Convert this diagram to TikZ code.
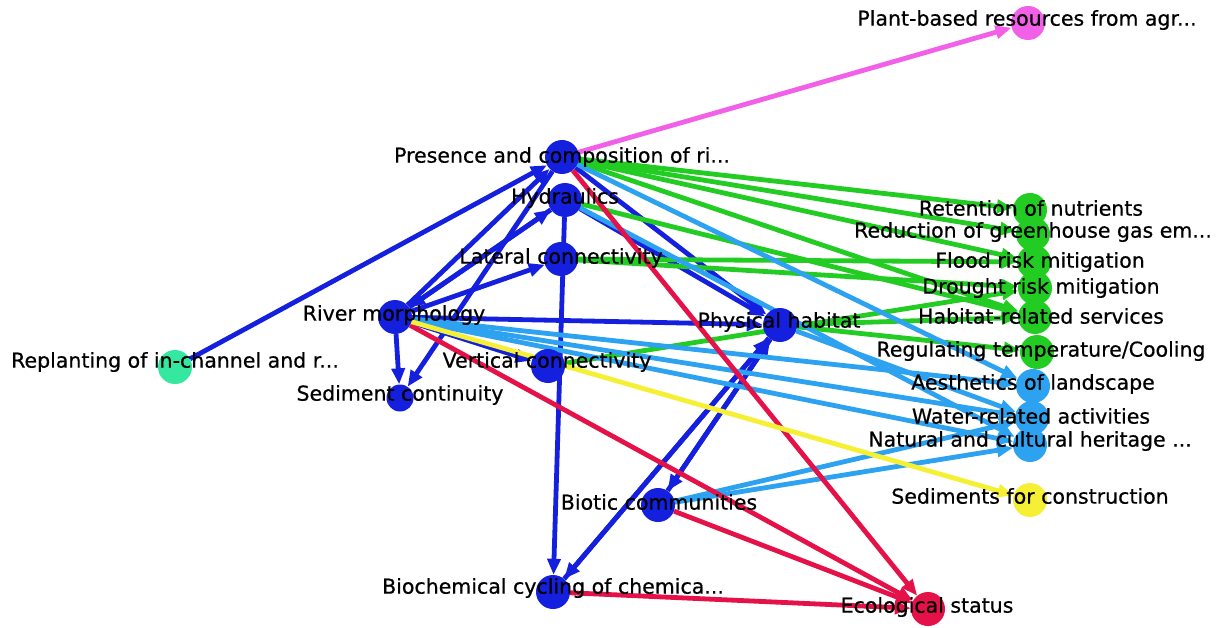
\documentclass[tikz,border=0pt]{standalone}
\usepackage{fontspec}
\setmainfont{DejaVu Sans}[FakeBold=0.6]
\usetikzlibrary{arrows.meta}
\pgfdeclarelayer{bglayer}
\pgfdeclarelayer{edgelayer}
\pgfdeclarelayer{textlayer}
\pgfsetlayers{bglayer,edgelayer,main,textlayer}

\definecolor{nblue}{RGB}{20,32,222}
\definecolor{ngreen}{RGB}{34,204,34}
\definecolor{nlblue}{RGB}{44,162,240}
\definecolor{nred}{RGB}{228,18,72}
\definecolor{nyellow}{RGB}{246,240,52}
\definecolor{npink}{RGB}{242,96,232}
\definecolor{nmint}{RGB}{52,232,160}

\tikzset{
  vtx/.style={circle, minimum size=34pt, inner sep=0pt, fill=#1},
  lbl/.style={font=\fontsize{20.5}{24}\selectfont, text=black, inner sep=0pt, anchor=center},
  link/.style={draw=#1, line width=4.8pt, -{Triangle[length=16pt,width=13pt]}},
}

\begin{document}
\begin{tikzpicture}[x=1pt,y=-1pt]
\begin{pgfonlayer}{bglayer}
\fill[white] (0,0) rectangle (1222,628);
\end{pgfonlayer}
\useasboundingbox (0,0) rectangle (1222,628);

% vertices
\node[vtx=npink] (plant) at (1028,23) {};
\node[vtx=nblue] (pr) at (562,157) {};
\node[vtx=nblue] (hy) at (565,200) {};
\node[vtx=nblue] (lc) at (561,259) {};
\node[vtx=nblue] (rm) at (395,317) {};
\node[vtx=nblue, minimum size=27pt] (sc) at (400,398) {};
\node[vtx=nblue] (vc) at (548,366) {};
\node[vtx=nblue] (ph) at (780,325) {};
\node[vtx=nblue] (bc) at (658,505) {};
\node[vtx=nblue] (bio) at (553,592) {};
\node[vtx=nred] (es) at (928,609) {};
\node[vtx=nmint] (rp) at (175,367) {};
\node[vtx=ngreen] (ret) at (1030,210) {};
\node[vtx=ngreen] (red) at (1033,234) {};
\node[vtx=ngreen] (fl) at (1034,262) {};
\node[vtx=ngreen] (dr) at (1035,288) {};
\node[vtx=ngreen] (hab) at (1035,317) {};
\node[vtx=ngreen] (reg) at (1037,352) {};
\node[vtx=nlblue] (aes) at (1033,386) {};
\node[vtx=nlblue] (wat) at (1032,418) {};
\node[vtx=nlblue] (nat) at (1030,445) {};
\node[vtx=nyellow] (sed) at (1030,500) {};

% connectors
\begin{pgfonlayer}{edgelayer}
\draw[link=npink] (pr) -- (plant);
% blue
\draw[link=nblue] (rp) -- (pr);
\draw[link=nblue] (rm) -- (pr);
\draw[link=nblue] (hy) -- (rm);
\draw[link=nblue] (rm) -- (hy);
\draw[link=nblue] (rm) -- (lc);
\draw[link=nblue] (rm) -- (sc);
\draw[link=nblue] (pr) -- (sc);
\draw[link=nblue] (rm) -- (vc);
\draw[link=nblue] (rm) -- (ph);
\draw[link=nblue] (pr) -- (ph);
\draw[link=nblue] (hy) -- (ph);
\draw[link=nblue] (hy) -- (bio);
\draw[link=nblue] (ph) -- (bio);
\draw[link=nblue] (bio) -- (ph);
\draw[link=nblue] (ph) -- (bc);
\draw[link=nblue] (bc) -- (ph);
% green
\draw[link=ngreen] (pr) -- (ret);
\draw[link=ngreen] (pr) -- (red);
\draw[link=ngreen] (pr) -- (fl);
\draw[link=ngreen] (pr) -- (hab);
\draw[link=ngreen] (hy) -- (hab);
\draw[link=ngreen] (lc) -- (fl);
\draw[link=ngreen] (lc) -- (dr);
\draw[link=ngreen] (vc) -- (dr);
\draw[link=ngreen] (ph) -- (hab);
\draw[link=ngreen] (ph) -- (reg);
% light blue
\draw[link=nlblue] (pr) -- (aes);
\draw[link=nlblue] (hy) -- (nat);
\draw[link=nlblue] (rm) -- (aes);
\draw[link=nlblue] (rm) -- (wat);
\draw[link=nlblue] (rm) -- (nat);
\draw[link=nlblue] (ph) -- (wat);
\draw[link=nlblue] (bc) -- (wat);
\draw[link=nlblue] (bc) -- (nat);
% red
\draw[link=nred] (pr) -- (es);
\draw[link=nred] (rm) -- (es);
\draw[link=nred] (bc) -- (es);
\draw[link=nred] (bio) -- (es);
% yellow
\draw[link=nyellow] (rm) -- (sed);
\end{pgfonlayer}

% labels
\begin{pgfonlayer}{textlayer}
\node[lbl] (plant-l) at (1027,20) {Plant-based resources from agr...};
\node[lbl] (pr-l) at (562,157) {Presence and composition of ri...};
\node[lbl] (hy-l) at (565,198) {Hydraulics};
\node[lbl] (lc-l) at (561,258) {Lateral connectivity};
\node[lbl] (rm-l) at (394,315) {River morphology};
\node[lbl] (sc-l) at (400,395) {Sediment continuity};
\node[lbl] (vc-l) at (547,362) {Vertical connectivity};
\node[lbl] (ph-l) at (779,322) {Physical habitat};
\node[lbl] (bc-l) at (659,502) {Biotic communities};
\node[lbl] (bio-l) at (553,588) {Biochemical cycling of chemica...};
\node[lbl] (es-l) at (927,607) {Ecological status};
\node[lbl] (rp-l) at (175,362) {Replanting of in-channel and r...};
\node[lbl] (ret-l) at (1031,208) {Retention of nutrients};
\node[lbl] (red-l) at (1033,232) {Reduction of greenhouse gas em...};
\node[lbl] (fl-l) at (1040,262) {Flood risk mitigation};
\node[lbl] (dr-l) at (1041,288) {Drought risk mitigation};
\node[lbl] (hab-l) at (1041,316) {Habitat-related services};
\node[lbl] (reg-l) at (1041,351) {Regulating temperature/Cooling};
\node[lbl] (aes-l) at (1033,384) {Aesthetics of landscape};
\node[lbl] (wat-l) at (1031,416) {Water-related activities};
\node[lbl] (nat-l) at (1030,441) {Natural and cultural heritage ...};
\node[lbl] (sed-l) at (1030,496) {Sediments for construction};
\end{pgfonlayer}
\end{tikzpicture}
\end{document}
